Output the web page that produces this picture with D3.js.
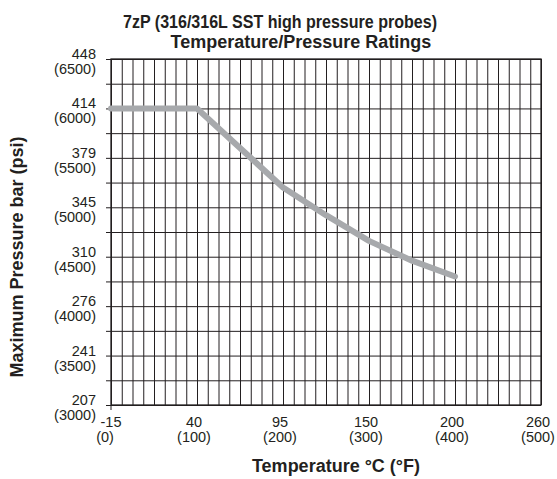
<!DOCTYPE html>
<html>
<head>
<meta charset="utf-8">
<script src="https://cdn.jsdelivr.net/npm/d3@7"></script>
<style>
  html, body { margin: 0; padding: 0; background: #fff; }
  svg { display: block; font-family: "Liberation Sans", Arial, Helvetica, sans-serif; }
</style>
</head>
<body>
<svg id="chart" width="557" height="479"></svg>
<script>
// ---- data ----
const tempF = [0, 100, 150, 200, 250, 300, 350, 400];
const pressurePsi = [6000, 6000, 5600, 5200, 4920, 4660, 4460, 4300];

const xTickF = [0, 100, 200, 300, 400, 500];
const xTickC = ["-15", "40", "95", "150", "200", "260"];
const yTickPsi = [3000, 3500, 4000, 4500, 5000, 5500, 6000, 6500];
const yTickBar = ["207", "241", "276", "310", "345", "379", "414", "448"];

const titleLines = ["7zP (316/316L SST high pressure probes)", "Temperature/Pressure Ratings"];
const xTitle = "Temperature °C (°F)";
const yTitle = "Maximum Pressure bar (psi)";

// ---- layout ----
const L = 111, R = 541, T = 59, B = 405;
const ink = "#231f20";

const svg = d3.select("#chart");
const x = d3.scaleLinear().domain([0, 500]).range([L, R]);
const y = d3.scaleLinear().domain([3000, 6500]).range([B, T]);

// vertical grid
const vg = svg.append("g").attr("transform", `translate(0,${B})`)
  .call(d3.axisBottom(x).tickValues(d3.range(0, 500.01, 12.5)).tickSize(-(B - T)).tickFormat(""));
vg.select(".domain").remove();
vg.selectAll(".tick line").attr("stroke", ink).attr("stroke-width", 1);

// horizontal grid with outer ticks
const hg = svg.append("g").attr("transform", `translate(${R},0)`)
  .call(d3.axisLeft(y).tickValues(d3.range(3000, 6500.01, 250)).tickSize(R - L + 5).tickFormat(""));
hg.select(".domain").remove();
hg.selectAll(".tick line").attr("stroke", ink).attr("stroke-width", 1);

// frame
svg.append("rect").attr("x", L).attr("y", T).attr("width", R - L).attr("height", B - T)
  .attr("fill", "none").attr("stroke", ink).attr("stroke-width", 1.3);
// small down tick at origin
svg.append("line").attr("x1", x(0)).attr("x2", x(0)).attr("y1", B).attr("y2", B + 5)
  .attr("stroke", ink).attr("stroke-width", 1);

// data line
const line = d3.line().x((d, i) => x(tempF[i])).y(d => y(d));
svg.append("path").datum(pressurePsi)
  .attr("d", line)
  .attr("fill", "none")
  .attr("stroke", "#a7a9ac")
  .attr("stroke-width", 6)
  .attr("stroke-linecap", "round")
  .attr("stroke-linejoin", "round");

// y tick labels
const yl = svg.append("g").attr("font-size", 14.5).attr("fill", ink).attr("text-anchor", "end");
yTickPsi.forEach((p, i) => {
  yl.append("text").attr("x", 96).attr("y", y(p)).text(yTickBar[i]);
  yl.append("text").attr("x", 96).attr("y", y(p) + 15).text(`(${p})`);
});

// x tick labels
const xl = svg.append("g").attr("font-size", 14.5).attr("fill", ink).attr("text-anchor", "middle");
xTickF.forEach((f, i) => {
  const off = i === 0 ? 0 : -3;
  xl.append("text").attr("x", x(f) + off).attr("y", B + 22).text(xTickC[i]);
  xl.append("text").attr("x", x(f) + (i === 0 ? -6 : -3)).attr("y", B + 37).text(`(${f})`);
});

// titles
svg.append("text").attr("x", 280).attr("y", 28).attr("text-anchor", "middle")
  .attr("font-size", 18).attr("font-weight", "bold").attr("fill", ink)
  .attr("textLength", 314).attr("lengthAdjust", "spacingAndGlyphs").text(titleLines[0]);
svg.append("text").attr("x", 301).attr("y", 47.5).attr("text-anchor", "middle")
  .attr("font-size", 18).attr("font-weight", "bold").attr("fill", ink).text(titleLines[1]);

svg.append("text").attr("x", 336).attr("y", 472).attr("text-anchor", "middle")
  .attr("font-size", 18).attr("font-weight", "bold").attr("fill", ink).text(xTitle);

svg.append("text").attr("transform", "translate(23,257) rotate(-90)").attr("text-anchor", "middle")
  .attr("font-size", 18).attr("font-weight", "bold").attr("fill", ink).text(yTitle);
</script>
</body>
</html>
